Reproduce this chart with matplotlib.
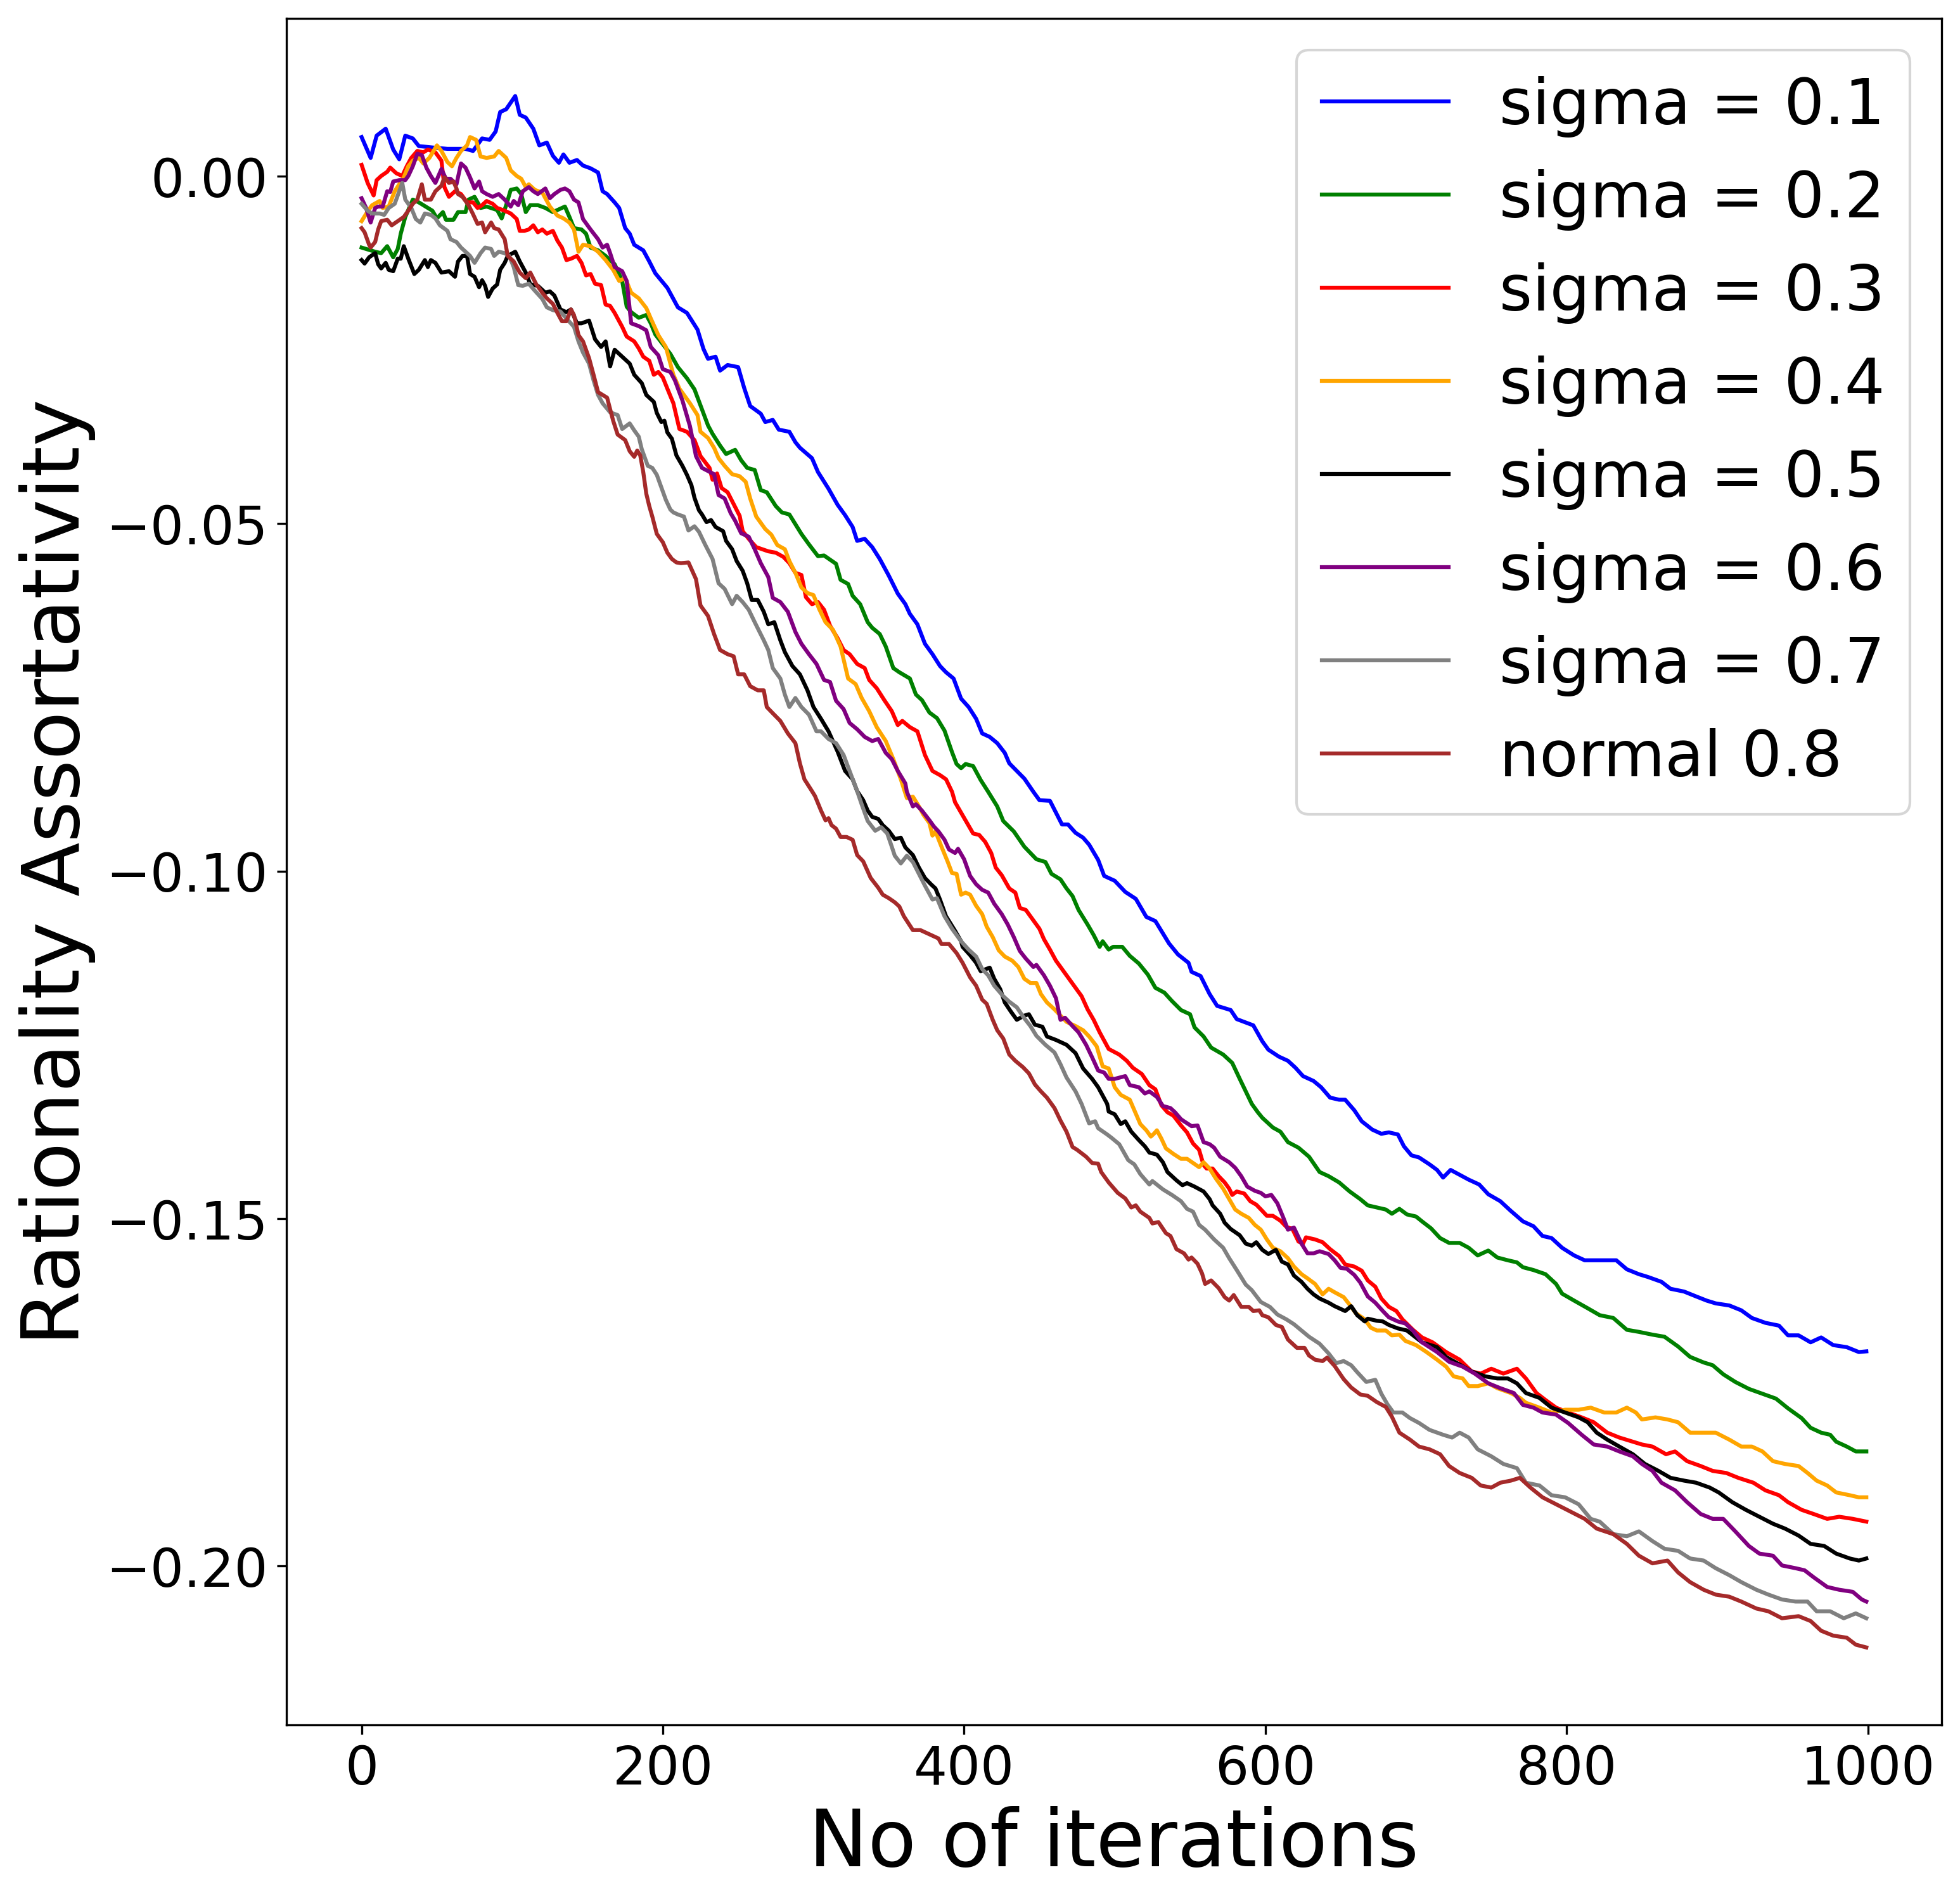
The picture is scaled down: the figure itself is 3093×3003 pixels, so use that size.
import matplotlib
matplotlib.use("Agg")
import matplotlib.pyplot as plt

# (iteration, rationality assortativity) pairs
sigma_01 = [(0,0.0056),(6,0.0026),(10,0.0058),(16,0.0068),(21,0.0038),(25,0.0024),(29,0.0058),(34,0.0054),(38,0.0043),(47,0.0041),(57,0.0039),(69,0.0039),(74,0.0036),(80,0.0054),(85,0.0052),(89,0.0064),(92,0.0092),(96,0.0096),(102,0.0115),(105,0.0088),(109,0.0084),(114,0.0068),(118,0.0044),(123,0.0048),(127,0.0029),(131,0.0019),(134,0.0031),(138,0.0019),(143,0.0023),(147,0.0015),(152,0.0011),(157,0.0005),(160,-0.0022),(163,-0.0026),(168,-0.0038),(171,-0.0046),(175,-0.0075),(178,-0.0083),(181,-0.0099),(187,-0.0107),(191,-0.0123),(195,-0.0140),(203,-0.0161),(210,-0.0189),(216,-0.0197),(223,-0.0221),(227,-0.0249),(230,-0.0263),(235,-0.0260),(238,-0.0280),(243,-0.0272),(250,-0.0275),(254,-0.0305),(258,-0.0331),(265,-0.0342),(268,-0.0354),(273,-0.0351),(277,-0.0365),(284,-0.0368),(288,-0.0383),(291,-0.0391),(299,-0.0406),(303,-0.0426),(310,-0.0450),(316,-0.0473),(321,-0.0488),(326,-0.0505),(329,-0.0525),(334,-0.0522),(339,-0.0534),(344,-0.0551),(350,-0.0575),(356,-0.0601),(361,-0.0616),(364,-0.0630),(369,-0.0645),(374,-0.0673),(379,-0.0688),(384,-0.0705),(388,-0.0714),(393,-0.0723),(398,-0.0752),(403,-0.0764),(408,-0.0781),(412,-0.0802),(417,-0.0807),(422,-0.0816),(427,-0.0830),(430,-0.0845),(435,-0.0856),(440,-0.0867),(446,-0.0886),(450,-0.0898),(457,-0.0899),(461,-0.0916),(465,-0.0933),(469,-0.0933),(474,-0.0945),(479,-0.0952),(483,-0.0962),(489,-0.0984),(493,-0.1007),(500,-0.1014),(507,-0.1030),(514,-0.1040),(521,-0.1066),(527,-0.1072),(536,-0.1104),(542,-0.1120),(549,-0.1132),(551,-0.1145),(557,-0.1151),(563,-0.1177),(568,-0.1194),(577,-0.1200),(581,-0.1213),(592,-0.1222),(598,-0.1245),(602,-0.1257),(609,-0.1267),(615,-0.1273),(620,-0.1283),(625,-0.1295),(632,-0.1302),(637,-0.1311),(643,-0.1326),(649,-0.1329),(653,-0.1329),(659,-0.1344),(664,-0.1360),(671,-0.1372),(677,-0.1378),(682,-0.1376),(688,-0.1379),(692,-0.1396),(697,-0.1409),(702,-0.1412),(709,-0.1422),(714,-0.1430),(718,-0.1441),(723,-0.1430),(729,-0.1437),(735,-0.1444),(742,-0.1451),(748,-0.1465),(756,-0.1475),(763,-0.1489),(771,-0.1504),(778,-0.1511),(784,-0.1525),(790,-0.1528),(797,-0.1542),(805,-0.1553),(812,-0.1560),(825,-0.1560),(833,-0.1560),(840,-0.1573),(848,-0.1580),(854,-0.1584),(863,-0.1591),(869,-0.1601),(878,-0.1605),(886,-0.1612),(893,-0.1618),(899,-0.1622),(908,-0.1625),(916,-0.1632),(923,-0.1643),(932,-0.1650),(941,-0.1654),(947,-0.1668),(954,-0.1668),(962,-0.1678),(969,-0.1671),(977,-0.1682),(986,-0.1685),(994,-0.1692),(999,-0.1691)]

sigma_02 = [(0,-0.0103),(9,-0.0109),(13,-0.0111),(17,-0.0101),(21,-0.0117),(24,-0.0105),(26,-0.0083),(29,-0.0059),(34,-0.0034),(38,-0.0038),(44,-0.0046),(47,-0.0050),(50,-0.0061),(54,-0.0052),(56,-0.0063),(61,-0.0063),(64,-0.0052),(69,-0.0052),(71,-0.0034),(75,-0.0030),(79,-0.0046),(83,-0.0044),(90,-0.0049),(93,-0.0061),(96,-0.0042),(99,-0.0020),(103,-0.0018),(106,-0.0026),(109,-0.0052),(112,-0.0042),(117,-0.0042),(122,-0.0046),(127,-0.0052),(135,-0.0044),(138,-0.0059),(141,-0.0075),(146,-0.0077),(149,-0.0083),(152,-0.0103),(157,-0.0107),(162,-0.0115),(168,-0.0127),(173,-0.0151),(176,-0.0188),(179,-0.0196),(184,-0.0204),(189,-0.0200),(192,-0.0212),(195,-0.0228),(200,-0.0242),(205,-0.0256),(210,-0.0275),(216,-0.0291),(221,-0.0307),(226,-0.0336),(230,-0.0359),(233,-0.0371),(238,-0.0388),(242,-0.0400),(248,-0.0394),(252,-0.0409),(256,-0.0420),(261,-0.0423),(265,-0.0452),(269,-0.0455),(275,-0.0475),(279,-0.0484),(284,-0.0487),(288,-0.0501),(292,-0.0515),(297,-0.0530),(303,-0.0547),(307,-0.0546),(315,-0.0558),(318,-0.0581),(323,-0.0587),(326,-0.0604),(331,-0.0616),(336,-0.0642),(339,-0.0650),(344,-0.0659),(348,-0.0677),(353,-0.0708),(357,-0.0714),(364,-0.0723),(368,-0.0746),(372,-0.0754),(377,-0.0772),(382,-0.0780),(387,-0.0798),(392,-0.0829),(395,-0.0846),(398,-0.0852),(401,-0.0846),(406,-0.0849),(411,-0.0869),(416,-0.0886),(422,-0.0907),(426,-0.0928),(433,-0.0943),(440,-0.0965),(444,-0.0974),(448,-0.0983),(454,-0.0987),(458,-0.1004),(464,-0.1012),(468,-0.1025),(472,-0.1036),(476,-0.1056),(482,-0.1077),(486,-0.1092),(490,-0.1109),(492,-0.1101),(496,-0.1113),(499,-0.1109),(505,-0.1109),(510,-0.1122),(516,-0.1133),(522,-0.1149),(527,-0.1168),(533,-0.1175),(538,-0.1187),(544,-0.1200),(550,-0.1206),(553,-0.1225),(559,-0.1238),(564,-0.1254),(572,-0.1264),(578,-0.1276),(583,-0.1299),(591,-0.1335),(595,-0.1347),(598,-0.1355),(605,-0.1369),(610,-0.1375),(615,-0.1390),(622,-0.1398),(629,-0.1411),(636,-0.1433),(642,-0.1439),(649,-0.1448),(656,-0.1461),(663,-0.1472),(668,-0.1481),(674,-0.1484),(680,-0.1487),(684,-0.1493),(689,-0.1486),(694,-0.1494),(700,-0.1497),(704,-0.1504),(710,-0.1514),(716,-0.1528),(722,-0.1535),(729,-0.1535),(735,-0.1542),(741,-0.1553),(748,-0.1546),(754,-0.1556),(761,-0.1560),(767,-0.1563),(771,-0.1570),(778,-0.1574),(786,-0.1580),(793,-0.1594),(797,-0.1608),(805,-0.1618),(814,-0.1629),(822,-0.1639),(831,-0.1643),(840,-0.1660),(848,-0.1663),(857,-0.1667),(865,-0.1670),(874,-0.1684),(882,-0.1699),(891,-0.1707),(897,-0.1711),(904,-0.1724),(912,-0.1735),(921,-0.1745),(930,-0.1752),(939,-0.1759),(947,-0.1773),(956,-0.1787),(962,-0.1801),(969,-0.1808),(975,-0.1811),(979,-0.1821),(986,-0.1828),(992,-0.1835),(999,-0.1835)]

sigma_03 = [(0,0.0016),(4,-0.0010),(8,-0.0028),(10,-0.0006),(13,0.0000),(17,0.0006),(19,0.0012),(23,0.0004),(27,0.0000),(30,0.0014),(33,0.0026),(37,0.0036),(41,0.0034),(44,0.0038),(49,0.0034),(53,0.0022),(55,-0.0016),(58,-0.0030),(62,-0.0022),(66,-0.0026),(70,-0.0038),(74,-0.0038),(77,-0.0046),(80,-0.0042),(83,-0.0036),(87,-0.0040),(90,-0.0046),(95,-0.0050),(99,-0.0054),(103,-0.0062),(105,-0.0079),(108,-0.0079),(111,-0.0077),(114,-0.0071),(117,-0.0081),(120,-0.0077),(123,-0.0083),(127,-0.0079),(130,-0.0093),(133,-0.0103),(136,-0.0121),(139,-0.0119),(143,-0.0115),(146,-0.0125),(149,-0.0143),(152,-0.0141),(155,-0.0155),(159,-0.0157),(162,-0.0185),(165,-0.0187),(168,-0.0197),(173,-0.0217),(176,-0.0231),(181,-0.0238),(184,-0.0248),(187,-0.0260),(191,-0.0266),(194,-0.0286),(197,-0.0282),(200,-0.0290),(203,-0.0306),(207,-0.0327),(211,-0.0364),(216,-0.0368),(221,-0.0380),(225,-0.0403),(231,-0.0420),(233,-0.0437),(236,-0.0428),(239,-0.0449),(243,-0.0455),(247,-0.0472),(251,-0.0489),(253,-0.0511),(257,-0.0522),(262,-0.0534),(266,-0.0537),(270,-0.0540),(275,-0.0542),(280,-0.0548),(284,-0.0557),(288,-0.0571),(292,-0.0574),(295,-0.0606),(299,-0.0616),(303,-0.0613),(307,-0.0624),(311,-0.0647),(316,-0.0665),(320,-0.0682),(324,-0.0688),(329,-0.0702),(334,-0.0708),(337,-0.0725),(342,-0.0737),(347,-0.0754),(352,-0.0770),(356,-0.0790),(359,-0.0784),(364,-0.0793),(369,-0.0799),(374,-0.0833),(379,-0.0856),(384,-0.0862),(388,-0.0868),(392,-0.0886),(394,-0.0901),(398,-0.0916),(402,-0.0931),(406,-0.0946),(410,-0.0948),(414,-0.0958),(418,-0.0974),(421,-0.0995),(425,-0.1006),(430,-0.1025),(434,-0.1031),(437,-0.1053),(441,-0.1056),(446,-0.1071),(450,-0.1083),(453,-0.1098),(457,-0.1113),(461,-0.1129),(465,-0.1141),(469,-0.1153),(474,-0.1168),(478,-0.1180),(482,-0.1199),(486,-0.1214),(490,-0.1232),(496,-0.1256),(503,-0.1264),(508,-0.1273),(512,-0.1283),(518,-0.1292),(523,-0.1308),(527,-0.1314),(531,-0.1337),(535,-0.1347),(539,-0.1352),(544,-0.1366),(548,-0.1376),(552,-0.1392),(556,-0.1401),(559,-0.1423),(561,-0.1428),(565,-0.1428),(569,-0.1439),(573,-0.1448),(576,-0.1457),(578,-0.1466),(581,-0.1461),(586,-0.1464),(590,-0.1475),(594,-0.1480),(598,-0.1489),(601,-0.1496),(605,-0.1496),(610,-0.1503),(614,-0.1512),(618,-0.1515),(622,-0.1533),(625,-0.1536),(627,-0.1527),(629,-0.1528),(633,-0.1530),(638,-0.1534),(643,-0.1544),(649,-0.1554),(653,-0.1566),(659,-0.1569),(664,-0.1575),(668,-0.1589),(673,-0.1598),(677,-0.1615),(682,-0.1627),(687,-0.1633),(691,-0.1645),(698,-0.1660),(704,-0.1671),(711,-0.1678),(720,-0.1692),(729,-0.1703),(737,-0.1720),(743,-0.1723),(750,-0.1716),(758,-0.1723),(767,-0.1716),(773,-0.1730),(780,-0.1751),(786,-0.1761),(793,-0.1772),(801,-0.1779),(810,-0.1786),(818,-0.1793),(827,-0.1808),(835,-0.1815),(844,-0.1821),(850,-0.1825),(857,-0.1828),(866,-0.1839),(872,-0.1835),(880,-0.1849),(889,-0.1856),(897,-0.1863),(906,-0.1866),(914,-0.1873),(924,-0.1880),(932,-0.1891),(941,-0.1898),(947,-0.1908),(956,-0.1919),(964,-0.1925),(973,-0.1932),(981,-0.1929),(990,-0.1932),(999,-0.1936)]

sigma_04 = [(0,-0.0065),(4,-0.0051),(7,-0.0042),(12,-0.0036),(14,-0.0046),(18,-0.0044),(22,-0.0022),(25,-0.0012),(28,-0.0002),(31,0.0014),(34,0.0022),(38,0.0026),(41,0.0018),(45,0.0026),(50,0.0044),(53,0.0036),(57,0.0020),(60,0.0014),(63,0.0026),(66,0.0036),(70,0.0044),(72,0.0056),(76,0.0052),(79,0.0028),(83,0.0026),(88,0.0028),(91,0.0036),(93,0.0032),(96,0.0026),(99,0.0008),(103,0.0000),(106,-0.0004),(109,-0.0016),(111,-0.0012),(115,-0.0020),(120,-0.0024),(125,-0.0044),(130,-0.0057),(134,-0.0061),(138,-0.0067),(141,-0.0077),(144,-0.0109),(147,-0.0099),(152,-0.0101),(157,-0.0109),(162,-0.0121),(167,-0.0135),(171,-0.0151),(175,-0.0147),(179,-0.0168),(184,-0.0176),(189,-0.0190),(192,-0.0205),(197,-0.0229),(202,-0.0246),(207,-0.0286),(211,-0.0306),(218,-0.0327),(223,-0.0344),(225,-0.0368),(230,-0.0377),(234,-0.0391),(237,-0.0406),(241,-0.0417),(246,-0.0429),(251,-0.0432),(255,-0.0440),(258,-0.0464),(262,-0.0490),(268,-0.0508),(272,-0.0516),(276,-0.0531),(281,-0.0537),(284,-0.0554),(288,-0.0571),(292,-0.0592),(296,-0.0600),(300,-0.0603),(304,-0.0624),(308,-0.0642),(313,-0.0653),(318,-0.0677),(323,-0.0723),(328,-0.0731),(332,-0.0751),(337,-0.0770),(342,-0.0793),(348,-0.0813),(353,-0.0839),(358,-0.0868),(362,-0.0895),(366,-0.0893),(370,-0.0907),(373,-0.0919),(377,-0.0931),(379,-0.0949),(381,-0.0943),(385,-0.0965),(389,-0.0986),(392,-0.1003),(395,-0.1004),(398,-0.1034),(401,-0.1031),(404,-0.1034),(408,-0.1050),(412,-0.1062),(415,-0.1080),(419,-0.1095),(423,-0.1114),(427,-0.1123),(432,-0.1129),(436,-0.1138),(440,-0.1155),(444,-0.1161),(448,-0.1161),(451,-0.1177),(455,-0.1189),(460,-0.1199),(464,-0.1208),(468,-0.1217),(474,-0.1223),(479,-0.1229),(483,-0.1238),(488,-0.1252),(492,-0.1281),(496,-0.1284),(500,-0.1311),(504,-0.1322),(510,-0.1329),(513,-0.1344),(517,-0.1364),(521,-0.1373),(524,-0.1382),(526,-0.1378),(528,-0.1373),(531,-0.1385),(534,-0.1399),(539,-0.1407),(544,-0.1414),(548,-0.1414),(552,-0.1420),(556,-0.1426),(559,-0.1419),(563,-0.1428),(567,-0.1442),(572,-0.1457),(576,-0.1472),(580,-0.1487),(584,-0.1493),(589,-0.1499),(593,-0.1509),(597,-0.1516),(601,-0.1530),(605,-0.1542),(610,-0.1547),(615,-0.1557),(619,-0.1569),(624,-0.1580),(628,-0.1586),(633,-0.1594),(638,-0.1609),(642,-0.1601),(646,-0.1606),(652,-0.1613),(656,-0.1624),(660,-0.1636),(666,-0.1645),(670,-0.1657),(674,-0.1661),(680,-0.1661),(684,-0.1668),(689,-0.1667),(693,-0.1676),(700,-0.1682),(707,-0.1692),(714,-0.1703),(720,-0.1713),(725,-0.1727),(731,-0.1730),(735,-0.1741),(741,-0.1741),(748,-0.1737),(754,-0.1744),(763,-0.1751),(769,-0.1758),(773,-0.1765),(782,-0.1772),(790,-0.1779),(799,-0.1775),(808,-0.1775),(816,-0.1772),(825,-0.1779),(833,-0.1779),(840,-0.1772),(846,-0.1779),(850,-0.1789),(859,-0.1786),(867,-0.1789),(874,-0.1793),(882,-0.1808),(891,-0.1808),(899,-0.1808),(908,-0.1818),(916,-0.1828),(923,-0.1828),(930,-0.1835),(937,-0.1849),(945,-0.1853),(954,-0.1856),(960,-0.1866),(966,-0.1877),(973,-0.1884),(979,-0.1894),(988,-0.1898),(994,-0.1901),(999,-0.1901)]

sigma_05 = [(0,-0.0121),(2,-0.0126),(5,-0.0117),(9,-0.0111),(11,-0.0127),(13,-0.0133),(16,-0.0125),(18,-0.0135),(21,-0.0137),(24,-0.0119),(26,-0.0119),(28,-0.0101),(31,-0.0119),(35,-0.0141),(38,-0.0135),(42,-0.0121),(44,-0.0131),(46,-0.0121),(49,-0.0125),(53,-0.0139),(58,-0.0137),(62,-0.0145),(64,-0.0123),(67,-0.0115),(70,-0.0115),(72,-0.0141),(75,-0.0145),(78,-0.0160),(80,-0.0150),(82,-0.0158),(84,-0.0174),(87,-0.0162),(90,-0.0156),(92,-0.0135),(95,-0.0125),(97,-0.0115),(102,-0.0109),(105,-0.0123),(109,-0.0139),(112,-0.0156),(117,-0.0158),(122,-0.0168),(125,-0.0166),(128,-0.0172),(132,-0.0192),(136,-0.0196),(139,-0.0192),(143,-0.0212),(146,-0.0212),(151,-0.0208),(155,-0.0235),(159,-0.0246),(162,-0.0238),(165,-0.0274),(168,-0.0250),(173,-0.0260),(178,-0.0270),(181,-0.0286),(186,-0.0298),(189,-0.0315),(194,-0.0325),(196,-0.0341),(199,-0.0354),(201,-0.0352),(203,-0.0369),(206,-0.0378),(209,-0.0402),(213,-0.0417),(216,-0.0430),(219,-0.0445),(221,-0.0463),(224,-0.0481),(226,-0.0487),(229,-0.0498),(232,-0.0495),(235,-0.0505),(240,-0.0511),(242,-0.0525),(246,-0.0537),(249,-0.0554),(253,-0.0568),(256,-0.0586),(259,-0.0610),(263,-0.0610),(267,-0.0627),(270,-0.0645),(274,-0.0642),(278,-0.0668),(281,-0.0685),(286,-0.0705),(291,-0.0717),(296,-0.0740),(300,-0.0764),(305,-0.0781),(310,-0.0799),(316,-0.0828),(321,-0.0856),(326,-0.0868),(329,-0.0885),(333,-0.0898),(336,-0.0913),(339,-0.0922),(343,-0.0925),(346,-0.0934),(350,-0.0942),(354,-0.0954),(358,-0.0952),(361,-0.0966),(366,-0.0977),(370,-0.0995),(374,-0.1010),(378,-0.1019),(381,-0.1025),(384,-0.1041),(388,-0.1065),(394,-0.1086),(398,-0.1101),(399,-0.1109),(404,-0.1121),(408,-0.1132),(411,-0.1144),(417,-0.1139),(420,-0.1155),(424,-0.1170),(427,-0.1189),(431,-0.1202),(435,-0.1214),(440,-0.1208),(443,-0.1206),(447,-0.1221),(452,-0.1224),(455,-0.1238),(461,-0.1243),(468,-0.1250),(474,-0.1262),(479,-0.1284),(485,-0.1299),(489,-0.1311),(495,-0.1335),(496,-0.1346),(500,-0.1350),(504,-0.1364),(507,-0.1360),(511,-0.1375),(516,-0.1387),(520,-0.1396),(523,-0.1405),(528,-0.1408),(532,-0.1419),(535,-0.1433),(541,-0.1445),(545,-0.1452),(548,-0.1449),(553,-0.1454),(559,-0.1461),(563,-0.1472),(565,-0.1481),(570,-0.1493),(573,-0.1506),(577,-0.1515),(583,-0.1524),(587,-0.1536),(591,-0.1539),(594,-0.1534),(598,-0.1545),(602,-0.1551),(607,-0.1545),(611,-0.1562),(615,-0.1566),(619,-0.1582),(624,-0.1591),(628,-0.1601),(632,-0.1609),(636,-0.1615),(642,-0.1621),(646,-0.1626),(650,-0.1630),(653,-0.1633),(657,-0.1626),(661,-0.1639),(666,-0.1648),(668,-0.1644),(674,-0.1647),(678,-0.1648),(682,-0.1653),(688,-0.1658),(694,-0.1661),(704,-0.1678),(714,-0.1685),(720,-0.1699),(729,-0.1710),(737,-0.1720),(746,-0.1727),(754,-0.1730),(761,-0.1730),(767,-0.1737),(773,-0.1751),(782,-0.1758),(790,-0.1772),(799,-0.1779),(808,-0.1786),(814,-0.1793),(820,-0.1808),(827,-0.1818),(835,-0.1828),(844,-0.1839),(852,-0.1853),(861,-0.1863),(869,-0.1873),(878,-0.1877),(886,-0.1880),(895,-0.1887),(901,-0.1894),(910,-0.1908),(919,-0.1919),(928,-0.1929),(937,-0.1939),(945,-0.1946),(954,-0.1956),(962,-0.1968),(971,-0.1971),(979,-0.1982),(988,-0.1989),(994,-0.1992),(999,-0.1989)]

sigma_06 = [(0,-0.0032),(3,-0.0046),(6,-0.0067),(9,-0.0046),(11,-0.0044),(14,-0.0044),(17,-0.0022),(19,-0.0023),(21,-0.0008),(25,-0.0006),(29,-0.0006),(31,0.0000),(34,0.0014),(37,0.0032),(40,0.0030),(43,0.0012),(46,0.0000),(49,-0.0010),(53,0.0010),(56,-0.0004),(59,-0.0004),(63,-0.0012),(66,0.0018),(69,0.0012),(72,-0.0002),(75,-0.0018),(78,-0.0008),(80,-0.0022),(83,-0.0026),(87,-0.0030),(91,-0.0026),(95,-0.0034),(99,-0.0044),(101,-0.0036),(104,-0.0042),(107,-0.0022),(111,-0.0016),(114,-0.0022),(117,-0.0026),(122,-0.0018),(125,-0.0032),(128,-0.0026),(132,-0.0020),(135,-0.0018),(138,-0.0022),(141,-0.0034),(144,-0.0038),(147,-0.0062),(152,-0.0077),(157,-0.0091),(160,-0.0103),(163,-0.0099),(165,-0.0111),(168,-0.0131),(173,-0.0137),(176,-0.0151),(179,-0.0212),(184,-0.0216),(189,-0.0222),(192,-0.0246),(197,-0.0258),(200,-0.0278),(205,-0.0282),(208,-0.0294),(213,-0.0323),(218,-0.0360),(222,-0.0403),(226,-0.0420),(234,-0.0429),(237,-0.0459),(241,-0.0464),(245,-0.0485),(248,-0.0496),(252,-0.0514),(257,-0.0519),(261,-0.0537),(265,-0.0557),(270,-0.0577),(273,-0.0607),(278,-0.0613),(283,-0.0627),(288,-0.0656),(292,-0.0673),(297,-0.0688),(302,-0.0702),(307,-0.0725),(311,-0.0728),(315,-0.0755),(320,-0.0767),(324,-0.0787),(329,-0.0796),(334,-0.0807),(339,-0.0813),(343,-0.0810),(348,-0.0830),(352,-0.0839),(356,-0.0856),(361,-0.0874),(362,-0.0886),(366,-0.0907),(368,-0.0904),(372,-0.0913),(377,-0.0927),(380,-0.0936),(383,-0.0943),(387,-0.0955),(390,-0.0969),(394,-0.0974),(396,-0.0968),(400,-0.0983),(404,-0.1007),(408,-0.1019),(412,-0.1027),(416,-0.1031),(420,-0.1047),(425,-0.1062),(429,-0.1077),(433,-0.1095),(437,-0.1115),(441,-0.1126),(446,-0.1138),(448,-0.1135),(453,-0.1150),(457,-0.1165),(461,-0.1183),(464,-0.1214),(467,-0.1211),(472,-0.1223),(476,-0.1232),(481,-0.1250),(485,-0.1268),(489,-0.1287),(493,-0.1290),(496,-0.1299),(500,-0.1299),(507,-0.1295),(510,-0.1308),(516,-0.1311),(520,-0.1320),(523,-0.1317),(528,-0.1325),(532,-0.1338),(537,-0.1341),(540,-0.1347),(544,-0.1357),(546,-0.1360),(551,-0.1367),(555,-0.1366),(559,-0.1390),(563,-0.1393),(566,-0.1398),(570,-0.1411),(576,-0.1419),(580,-0.1427),(584,-0.1439),(588,-0.1454),(593,-0.1460),(597,-0.1463),(600,-0.1468),(604,-0.1466),(608,-0.1478),(612,-0.1499),(615,-0.1516),(619,-0.1513),(624,-0.1536),(628,-0.1550),(632,-0.1550),(636,-0.1547),(642,-0.1551),(646,-0.1560),(650,-0.1571),(654,-0.1572),(659,-0.1581),(663,-0.1592),(668,-0.1612),(673,-0.1621),(678,-0.1633),(682,-0.1642),(688,-0.1648),(693,-0.1651),(698,-0.1661),(704,-0.1678),(714,-0.1692),(722,-0.1706),(731,-0.1713),(739,-0.1723),(748,-0.1737),(756,-0.1744),(765,-0.1751),(771,-0.1768),(778,-0.1772),(784,-0.1779),(793,-0.1782),(801,-0.1794),(810,-0.1811),(818,-0.1825),(827,-0.1828),(835,-0.1835),(844,-0.1842),(850,-0.1853),(857,-0.1863),(863,-0.1880),(872,-0.1891),(880,-0.1908),(889,-0.1925),(897,-0.1932),(904,-0.1932),(912,-0.1950),(921,-0.1971),(928,-0.1982),(937,-0.1985),(943,-0.1999),(952,-0.2003),(958,-0.2006),(964,-0.2016),(973,-0.2030),(981,-0.2034),(990,-0.2037),(996,-0.2048),(999,-0.2051)]

sigma_07 = [(0,-0.0040),(4,-0.0050),(7,-0.0054),(12,-0.0054),(15,-0.0056),(18,-0.0046),(22,-0.0040),(25,-0.0022),(27,-0.0010),(29,-0.0034),(33,-0.0046),(36,-0.0062),(39,-0.0067),(42,-0.0054),(46,-0.0056),(49,-0.0061),(52,-0.0071),(57,-0.0079),(59,-0.0091),(63,-0.0095),(66,-0.0103),(69,-0.0109),(72,-0.0115),(75,-0.0125),(79,-0.0111),(82,-0.0103),(86,-0.0105),(88,-0.0115),(91,-0.0109),(95,-0.0111),(98,-0.0115),(101,-0.0131),(104,-0.0157),(107,-0.0158),(111,-0.0155),(115,-0.0165),(120,-0.0177),(123,-0.0189),(127,-0.0193),(132,-0.0195),(136,-0.0205),(141,-0.0217),(144,-0.0238),(147,-0.0254),(151,-0.0270),(154,-0.0294),(157,-0.0315),(160,-0.0327),(165,-0.0340),(170,-0.0344),(173,-0.0364),(178,-0.0356),(181,-0.0366),(184,-0.0375),(186,-0.0393),(188,-0.0405),(190,-0.0417),(193,-0.0420),(196,-0.0430),(199,-0.0448),(202,-0.0466),(205,-0.0480),(207,-0.0484),(210,-0.0487),(214,-0.0490),(217,-0.0510),(221,-0.0504),(224,-0.0512),(228,-0.0530),(233,-0.0551),(237,-0.0586),(241,-0.0594),(246,-0.0616),(249,-0.0604),(253,-0.0613),(257,-0.0624),(261,-0.0642),(267,-0.0668),(270,-0.0682),(273,-0.0708),(278,-0.0723),(281,-0.0746),(284,-0.0764),(288,-0.0751),(292,-0.0764),(297,-0.0775),(302,-0.0799),(305,-0.0799),(310,-0.0810),(315,-0.0816),(320,-0.0833),(324,-0.0856),(329,-0.0885),(332,-0.0904),(336,-0.0928),(341,-0.0942),(345,-0.0937),(349,-0.0946),(352,-0.0965),(354,-0.0978),(358,-0.0989),(362,-0.0978),(366,-0.0987),(370,-0.1004),(374,-0.1021),(379,-0.1041),(382,-0.1039),(387,-0.1065),(392,-0.1083),(398,-0.1101),(403,-0.1113),(408,-0.1123),(412,-0.1141),(416,-0.1150),(420,-0.1165),(426,-0.1180),(430,-0.1188),(435,-0.1196),(439,-0.1209),(444,-0.1223),(448,-0.1237),(454,-0.1250),(460,-0.1261),(464,-0.1278),(468,-0.1297),(474,-0.1317),(478,-0.1335),(483,-0.1363),(487,-0.1360),(489,-0.1370),(495,-0.1379),(498,-0.1384),(503,-0.1393),(509,-0.1416),(513,-0.1422),(517,-0.1436),(523,-0.1451),(525,-0.1446),(532,-0.1458),(538,-0.1466),(544,-0.1475),(548,-0.1486),(552,-0.1490),(556,-0.1509),(560,-0.1516),(566,-0.1530),(572,-0.1542),(576,-0.1557),(581,-0.1574),(587,-0.1595),(591,-0.1603),(597,-0.1620),(603,-0.1627),(608,-0.1638),(614,-0.1645),(619,-0.1652),(624,-0.1661),(629,-0.1670),(636,-0.1680),(642,-0.1694),(647,-0.1708),(652,-0.1705),(657,-0.1711),(661,-0.1721),(667,-0.1735),(673,-0.1732),(677,-0.1752),(681,-0.1767),(685,-0.1779),(691,-0.1779),(696,-0.1787),(702,-0.1794),(709,-0.1804),(718,-0.1811),(724,-0.1815),(729,-0.1808),(735,-0.1815),(741,-0.1832),(750,-0.1842),(758,-0.1853),(767,-0.1859),(773,-0.1880),(782,-0.1884),(790,-0.1898),(799,-0.1901),(808,-0.1911),(816,-0.1932),(822,-0.1936),(831,-0.1954),(840,-0.1957),(848,-0.1950),(857,-0.1964),(865,-0.1975),(874,-0.1978),(882,-0.1989),(891,-0.1992),(899,-0.2003),(908,-0.2013),(916,-0.2023),(926,-0.2034),(934,-0.2041),(943,-0.2048),(952,-0.2051),(960,-0.2051),(966,-0.2065),(975,-0.2065),(984,-0.2075),(992,-0.2068),(999,-0.2075)]

normal_08 = [(0,-0.0075),(2,-0.0081),(5,-0.0099),(6,-0.0103),(9,-0.0095),(11,-0.0077),(13,-0.0065),(17,-0.0063),(20,-0.0071),(24,-0.0065),(28,-0.0059),(31,-0.0050),(34,-0.0040),(37,-0.0034),(40,-0.0012),(42,-0.0034),(46,-0.0034),(49,-0.0022),(53,-0.0014),(55,-0.0002),(58,-0.0010),(61,-0.0008),(63,-0.0018),(64,-0.0026),(67,-0.0030),(71,-0.0042),(74,-0.0055),(77,-0.0069),(80,-0.0067),(82,-0.0081),(86,-0.0067),(88,-0.0075),(91,-0.0077),(95,-0.0091),(97,-0.0115),(101,-0.0123),(105,-0.0139),(109,-0.0147),(112,-0.0139),(116,-0.0156),(120,-0.0168),(123,-0.0176),(127,-0.0184),(130,-0.0197),(133,-0.0209),(136,-0.0209),(139,-0.0192),(141,-0.0200),(144,-0.0229),(147,-0.0238),(151,-0.0262),(154,-0.0286),(157,-0.0311),(160,-0.0315),(163,-0.0319),(167,-0.0352),(170,-0.0372),(175,-0.0380),(178,-0.0396),(181,-0.0404),(183,-0.0395),(185,-0.0402),(187,-0.0426),(189,-0.0457),(191,-0.0475),(193,-0.0490),(196,-0.0515),(200,-0.0527),(203,-0.0542),(206,-0.0551),(209,-0.0556),(212,-0.0557),(217,-0.0556),(222,-0.0580),(225,-0.0618),(230,-0.0633),(234,-0.0659),(238,-0.0682),(243,-0.0688),(247,-0.0691),(250,-0.0717),(254,-0.0717),(258,-0.0734),(263,-0.0740),(267,-0.0740),(269,-0.0764),(273,-0.0773),(278,-0.0784),(283,-0.0802),(288,-0.0816),(291,-0.0845),(294,-0.0868),(299,-0.0885),(301,-0.0892),(305,-0.0913),(308,-0.0927),(310,-0.0924),(312,-0.0934),(315,-0.0939),(318,-0.0951),(322,-0.0951),(326,-0.0955),(329,-0.0977),(333,-0.0986),(338,-0.1010),(343,-0.1024),(346,-0.1034),(350,-0.1039),(354,-0.1045),(357,-0.1051),(360,-0.1065),(366,-0.1085),(371,-0.1085),(377,-0.1091),(383,-0.1097),(385,-0.1105),(390,-0.1105),(395,-0.1118),(399,-0.1132),(404,-0.1153),(408,-0.1165),(412,-0.1185),(415,-0.1191),(419,-0.1214),(422,-0.1229),(426,-0.1241),(430,-0.1264),(434,-0.1273),(439,-0.1282),(443,-0.1291),(447,-0.1307),(451,-0.1317),(455,-0.1326),(460,-0.1341),(464,-0.1359),(468,-0.1375),(472,-0.1397),(475,-0.1401),(481,-0.1411),(485,-0.1420),(489,-0.1421),(491,-0.1433),(496,-0.1448),(502,-0.1463),(507,-0.1471),(511,-0.1484),(514,-0.1481),(517,-0.1490),(523,-0.1499),(525,-0.1507),(529,-0.1505),(534,-0.1521),(537,-0.1525),(541,-0.1544),(546,-0.1550),(549,-0.1559),(551,-0.1556),(555,-0.1565),(558,-0.1579),(560,-0.1594),(564,-0.1589),(569,-0.1600),(573,-0.1613),(576,-0.1618),(579,-0.1610),(584,-0.1627),(589,-0.1627),(592,-0.1633),(596,-0.1632),(598,-0.1639),(602,-0.1642),(607,-0.1653),(611,-0.1656),(615,-0.1674),(621,-0.1686),(626,-0.1686),(629,-0.1697),(633,-0.1703),(638,-0.1705),(641,-0.1700),(646,-0.1712),(652,-0.1731),(657,-0.1743),(663,-0.1753),(668,-0.1755),(674,-0.1764),(680,-0.1771),(684,-0.1785),(689,-0.1808),(696,-0.1818),(702,-0.1828),(709,-0.1832),(716,-0.1839),(722,-0.1856),(729,-0.1866),(737,-0.1873),(743,-0.1884),(750,-0.1887),(756,-0.1880),(763,-0.1877),(769,-0.1873),(776,-0.1887),(784,-0.1901),(793,-0.1911),(803,-0.1922),(812,-0.1932),(820,-0.1946),(831,-0.1954),(840,-0.1968),(848,-0.1985),(857,-0.1996),(867,-0.1992),(874,-0.2009),(882,-0.2023),(891,-0.2034),(899,-0.2041),(908,-0.2044),(916,-0.2051),(926,-0.2061),(934,-0.2065),(943,-0.2075),(954,-0.2072),(962,-0.2079),(969,-0.2093),(977,-0.2100),(986,-0.2103),(992,-0.2113),(999,-0.2117)]

series = [sigma_01, sigma_02, sigma_03, sigma_04, sigma_05, sigma_06, sigma_07, normal_08]
labels = ["sigma = 0.1", "sigma = 0.2", "sigma = 0.3", "sigma = 0.4",
          "sigma = 0.5", "sigma = 0.6", "sigma = 0.7", "normal 0.8"]
colors = ["blue", "green", "red", "orange", "black", "purple", "gray", "brown"]

fig = plt.figure(figsize=(10.31, 10.013), dpi=300)
ax = fig.add_axes([0.1461, 0.0935, 0.8445, 0.8965])

for data, lab, col in zip(series, labels, colors):
    xs = [p[0] for p in data]
    ys = [p[1] for p in data]
    ax.plot(xs, ys, color=col, label=lab, linewidth=1.5)

ax.set_xticks([0, 200, 400, 600, 800, 1000])
ax.set_yticks([0.0, -0.05, -0.10, -0.15, -0.20])
ax.tick_params(axis="both", labelsize=20)
ax.set_xlabel("No of iterations", fontsize=30)
ax.set_ylabel("Rationality Assortativity", fontsize=30)
ax.legend(loc="upper right", fontsize=24)

fig.savefig("out.png", dpi=300)
